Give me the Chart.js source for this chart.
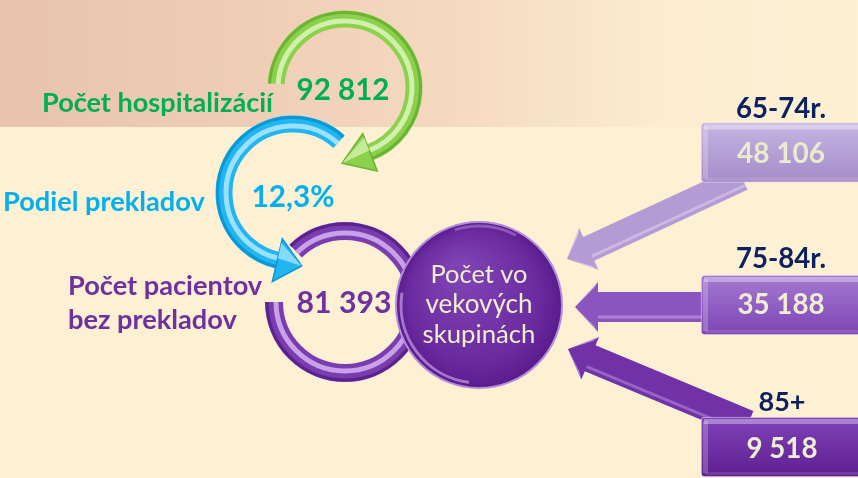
<!DOCTYPE html>
<html lang="sk">
<head>
<meta charset="utf-8">
<title>Počet hospitalizácií</title>
<script src="https://cdn.jsdelivr.net/npm/chart.js@4.4.1/dist/chart.umd.min.js"></script>
<style>
  html, body { margin:0; padding:0; background:#FDF0D3; }
  #wrap { position:relative; width:858px; height:478px; overflow:hidden; }
</style>
</head>
<body>
<div id="wrap"><canvas id="chart"></canvas></div>
<script>
// values
var stepLabels = [["Počet hospitalizácií"], ["Podiel prekladov"], ["Počet pacientov", "bez prekladov"]];
var stepValues = [92812, 12.3, 81393];
var stepUnits  = ["", "%", ""];
var centerLines = ["Počet vo", "vekových", "skupinách"];
var ageGroups = ["65-74r.", "75-84r.", "85+"];
var ageValues = [48106, 35188, 9518];

// layout (pixel space of the hidden 858 x 478 axes)
var FONT = "Lato, 'Open Sans', sans-serif";
var stepColors = ["#00B050", "#00B0F0", "#7030A0"];
var rings = [
  { cx:345, cy:88,  r:69, w:17, start:Math.PI + 0.06, end:1.2,  ccw:false, head:{len:30, half:20},
    base:"#8CD14C", dark:"#69B433", light:"#DDF6BC" },
  { cx:293, cy:193, r:69, w:17, start:-0.84, end:1.8, ccw:true, head:{len:25, half:22},
    base:"#21B5F1", dark:"#0A97D4", light:"#B0E9FF" },
  { cx:345, cy:302, r:71, w:18, start:Math.PI, end:-2.34, ccw:true, head:null,
    base:"#7A3DB0", dark:"#5A238C", light:"#D6B3F2" }
];
var valuePos = [ {x:343, y:100, w:93}, {x:293, y:207, w:83}, {x:344, y:313, w:95} ];
var labelPos = [ {x:42, y:[112], w:231}, {x:3, y:[211], w:202}, {x:68, y:[295, 329], w:194} ];
var hub = { x:479, y:305, r:83, lines:[283, 313, 343], widths:[97, 107, 113] };
var boxes = [
  { cy:152.5, top:"#C6B5E3", bottom:"#A48BC8", text:"#E8EBCC", labelY:118, labelW:90, valueY:163, valueW:88, cx:781 },
  { cy:305,   top:"#A57AD3", bottom:"#7C45B3", text:"#F1EDD2", labelY:268, labelW:90, valueY:314, valueW:87, cx:781 },
  { cy:447,   top:"#8042B8", bottom:"#5D1F90", text:"#F1EDD2", labelY:411, labelW:47, valueY:458, valueW:71, cx:782 }
];
var boxLeft = 701, boxRight = 864, boxH = 60;
var arrows = [
  { from:[742,178], to:[567,259], shaft:26, len:24, half:23, color:"#B39CD4", light:"#E2D6F3" },
  { from:[705,307], to:[575,307], shaft:30, len:23, half:25, color:"#8A55BF", light:"#CDB0EA" },
  { from:[748,424], to:[568,349], shaft:28, len:24, half:23, color:"#7131A7", light:"#BE98E4" }
];

function fmt(n){
  var parts = String(n).split(".");
  return parts[0].replace(/\B(?=(\d{3})+(?!\d))/g, " ") + (parts[1] ? "," + parts[1] : "");
}

function fitFont(ctx, text, weight, width){
  ctx.font = weight + " 40px " + FONT;
  var size = 40 * width / ctx.measureText(text).width;
  ctx.font = weight + " " + size.toFixed(1) + "px " + FONT;
  return size;
}

function P(chart, x, y){
  return [chart.scales.x.getPixelForValue(x), chart.scales.y.getPixelForValue(y)];
}

function drawRing(chart, g){
  var ctx = chart.ctx;
  var c = P(chart, g.cx, g.cy);
  ctx.save();
  ctx.lineCap = "butt";
  ctx.beginPath(); ctx.arc(c[0], c[1], g.r, g.start, g.end, g.ccw);
  ctx.strokeStyle = g.base; ctx.lineWidth = g.w; ctx.stroke();
  ctx.beginPath(); ctx.arc(c[0], c[1], g.r + g.w/2 - 2, g.start, g.end, g.ccw);
  ctx.strokeStyle = g.dark; ctx.lineWidth = 3; ctx.stroke();
  ctx.globalAlpha = 0.85;
  ctx.beginPath(); ctx.arc(c[0], c[1], g.r - 2, g.start, g.end, g.ccw);
  ctx.strokeStyle = g.light; ctx.lineWidth = 5; ctx.stroke();
  ctx.globalAlpha = 1;
  if (g.head){
    var a = g.end, s = g.ccw ? -1 : 1;
    var px = c[0] + g.r * Math.cos(a), py = c[1] + g.r * Math.sin(a);
    var tx = -Math.sin(a) * s, ty = Math.cos(a) * s;
    var nx = Math.cos(a), ny = Math.sin(a);
    var tip = [px + tx * g.head.len, py + ty * g.head.len];
    ctx.beginPath();
    ctx.moveTo(px + nx * g.head.half, py + ny * g.head.half);
    ctx.lineTo(tip[0], tip[1]);
    ctx.lineTo(px - nx * g.head.half, py - ny * g.head.half);
    ctx.closePath();
    ctx.fillStyle = g.base; ctx.fill();
    ctx.strokeStyle = g.dark; ctx.lineWidth = 1.5; ctx.stroke();
    ctx.beginPath();
    ctx.moveTo(px - nx * g.head.half * 0.8, py - ny * g.head.half * 0.8);
    ctx.lineTo(tip[0], tip[1]);
    ctx.lineTo(px - nx * 2, py - ny * 2);
    ctx.closePath();
    ctx.fillStyle = g.light; ctx.globalAlpha = 0.7; ctx.fill();
    ctx.globalAlpha = 1;
  }
  ctx.restore();
}

function drawArrow(chart, ar){
  var ctx = chart.ctx;
  var f = P(chart, ar.from[0], ar.from[1]), t = P(chart, ar.to[0], ar.to[1]);
  var dx = t[0] - f[0], dy = t[1] - f[1], L = Math.sqrt(dx*dx + dy*dy);
  dx /= L; dy /= L;
  var nx = -dy, ny = dx;
  var bx = t[0] - dx * ar.len, by = t[1] - dy * ar.len;
  var s = ar.shaft / 2;
  ctx.save();
  ctx.beginPath();
  ctx.moveTo(f[0] + nx*s, f[1] + ny*s);
  ctx.lineTo(bx + nx*s, by + ny*s);
  ctx.lineTo(bx + nx*ar.half, by + ny*ar.half);
  ctx.lineTo(t[0], t[1]);
  ctx.lineTo(bx - nx*ar.half, by - ny*ar.half);
  ctx.lineTo(bx - nx*s, by - ny*s);
  ctx.lineTo(f[0] - nx*s, f[1] - ny*s);
  ctx.closePath();
  ctx.fillStyle = ar.color; ctx.fill();
  // soft highlight along the shaft
  ctx.beginPath();
  ctx.moveTo(f[0] - nx*(s-5), f[1] - ny*(s-5));
  ctx.lineTo(bx - nx*(s-5), by - ny*(s-5));
  ctx.strokeStyle = ar.light; ctx.globalAlpha = 0.5; ctx.lineWidth = 3; ctx.stroke();
  // light facets on the head
  ctx.globalAlpha = 0.75;
  ctx.beginPath();
  ctx.moveTo(bx - nx*ar.half, by - ny*ar.half);
  ctx.lineTo(t[0], t[1]);
  ctx.lineTo(bx - nx*(ar.half-6) + dx*4, by - ny*(ar.half-6) + dy*4);
  ctx.closePath();
  ctx.fillStyle = ar.light; ctx.fill();
  ctx.beginPath();
  ctx.moveTo(bx + nx*ar.half, by + ny*ar.half);
  ctx.lineTo(t[0], t[1]);
  ctx.lineTo(bx + nx*(ar.half-6) + dx*4, by + ny*(ar.half-6) + dy*4);
  ctx.closePath();
  ctx.fillStyle = "#ffffff"; ctx.globalAlpha = 0.45; ctx.fill();
  ctx.restore();
}

var scenePlugin = {
  id: "scene",
  beforeDraw: function(chart){
    var ctx = chart.ctx, w = chart.width;
    ctx.save();
    ctx.fillStyle = "#FDF0D3";
    ctx.fillRect(0, 0, w, chart.height);
    var g = ctx.createLinearGradient(0, 0, w, 0);
    g.addColorStop(0, "#E9C3AC");
    g.addColorStop(0.3, "#EFCEB6");
    g.addColorStop(0.55, "#F5DBC2");
    g.addColorStop(0.78, "#FCEDD1");
    g.addColorStop(1, "#FDF0D3");
    ctx.fillStyle = g;
    ctx.fillRect(0, 0, w, 127);
    ctx.restore();
  },
  beforeDatasetsDraw: function(chart){
    arrows.forEach(function(ar){ drawArrow(chart, ar); });
    for (var i = rings.length - 1; i >= 0; i--) drawRing(chart, rings[i]);
  },
  afterDatasetsDraw: function(chart){
    var ctx = chart.ctx;
    ctx.save();
    // bevel on the boxes
    boxes.forEach(function(b){
      var tl = P(chart, boxLeft, b.cy - boxH/2);
      ctx.fillStyle = "rgba(255,255,255,0.35)";
      ctx.fillRect(tl[0] + 3, tl[1] + 2, 200, 5);
      ctx.fillStyle = "rgba(255,255,255,0.22)";
      ctx.fillRect(tl[0] + 2, tl[1] + 4, 5, boxH - 8);
      ctx.fillStyle = "rgba(255,255,255,0.12)";
      ctx.fillRect(tl[0] + 4, tl[1] + boxH - 5, 200, 3);
    });
    // rim highlight on the hub
    var h = P(chart, hub.x, hub.y);
    ctx.beginPath(); ctx.arc(h[0], h[1], hub.r - 5, 1.7, 3.3);
    ctx.strokeStyle = "rgba(225,190,255,0.55)"; ctx.lineWidth = 3; ctx.stroke();
    ctx.beginPath(); ctx.arc(h[0], h[1], hub.r - 4, 4.4, 5.2);
    ctx.strokeStyle = "rgba(225,190,255,0.35)"; ctx.lineWidth = 3; ctx.stroke();

    // step values and labels
    ctx.textBaseline = "alphabetic";
    stepValues.forEach(function(v, i){
      var txt = fmt(v) + stepUnits[i];
      var p = P(chart, valuePos[i].x, valuePos[i].y);
      fitFont(ctx, txt, "bold", valuePos[i].w);
      ctx.textAlign = "center";
      ctx.fillStyle = stepColors[i];
      ctx.fillText(txt, p[0], p[1]);
      var lp = labelPos[i];
      fitFont(ctx, stepLabels[i][0], "bold", lp.w);
      ctx.textAlign = "left";
      stepLabels[i].forEach(function(line, k){
        var q = P(chart, lp.x, lp.y[k]);
        ctx.fillText(line, q[0], q[1]);
      });
    });

    // hub text
    ctx.textAlign = "center";
    ctx.fillStyle = "#F1EDCF";
    centerLines.forEach(function(line, k){
      var q = P(chart, hub.x, hub.lines[k]);
      fitFont(ctx, line, "normal", hub.widths[k]);
      ctx.fillText(line, q[0], q[1]);
    });

    // age groups
    boxes.forEach(function(b, i){
      var q = P(chart, b.cx, b.labelY);
      fitFont(ctx, ageGroups[i], "bold", b.labelW);
      ctx.fillStyle = "#0C2160";
      ctx.fillText(ageGroups[i], q[0], q[1]);
      var txt = fmt(ageValues[i]);
      q = P(chart, b.cx, b.valueY);
      fitFont(ctx, txt, "bold", b.valueW);
      ctx.fillStyle = b.text;
      ctx.fillText(txt, q[0], q[1]);
    });
    ctx.restore();
  }
};

function boxFill(c){
  var chart = c.chart, b = boxes[c.dataIndex];
  if (!b) return "#8A55BF";
  if (!chart.chartArea) return b.bottom;
  var y0 = chart.scales.y.getPixelForValue(b.cy - boxH/2);
  var y1 = chart.scales.y.getPixelForValue(b.cy + boxH/2);
  var g = chart.ctx.createLinearGradient(0, y0, 0, y1);
  g.addColorStop(0, b.top);
  g.addColorStop(1, b.bottom);
  return g;
}

function hubFill(c){
  var chart = c.chart;
  if (!chart.chartArea) return "#6A2A9C";
  var p = P(chart, hub.x, hub.y);
  var g = chart.ctx.createRadialGradient(p[0] - 20, p[1] - 35, 10, p[0], p[1], hub.r);
  g.addColorStop(0, "#7E42B3");
  g.addColorStop(0.75, "#6B2BA0");
  g.addColorStop(1, "#5A1C8C");
  return g;
}

new Chart(document.getElementById("chart"), {
  data: {
    datasets: [
      {
        type: "bar",
        indexAxis: "y",
        data: ageValues.map(function(v, i){ return { y: boxes[i].cy, x: [boxLeft, boxRight] }; }),
        barThickness: boxH,
        backgroundColor: boxFill,
        borderColor: "rgba(230,215,250,0.7)",
        borderWidth: 1,
        borderRadius: 4,
        borderSkipped: false
      },
      {
        type: "bubble",
        data: [{ x: hub.x, y: hub.y, r: hub.r }],
        backgroundColor: hubFill,
        borderColor: "#B48CDB",
        borderWidth: 2
      }
    ]
  },
  options: {
    responsive: true,
    maintainAspectRatio: false,
    animation: false,
    events: [],
    layout: { padding: 0, autoPadding: false },
    plugins: { legend: { display: false }, tooltip: { enabled: false } },
    scales: {
      x: { type: "linear", min: 0, max: 858, offset: false, display: false },
      y: { type: "linear", min: 0, max: 478, offset: false, reverse: true, display: false }
    }
  },
  plugins: [scenePlugin]
});
</script>
</body>
</html>
